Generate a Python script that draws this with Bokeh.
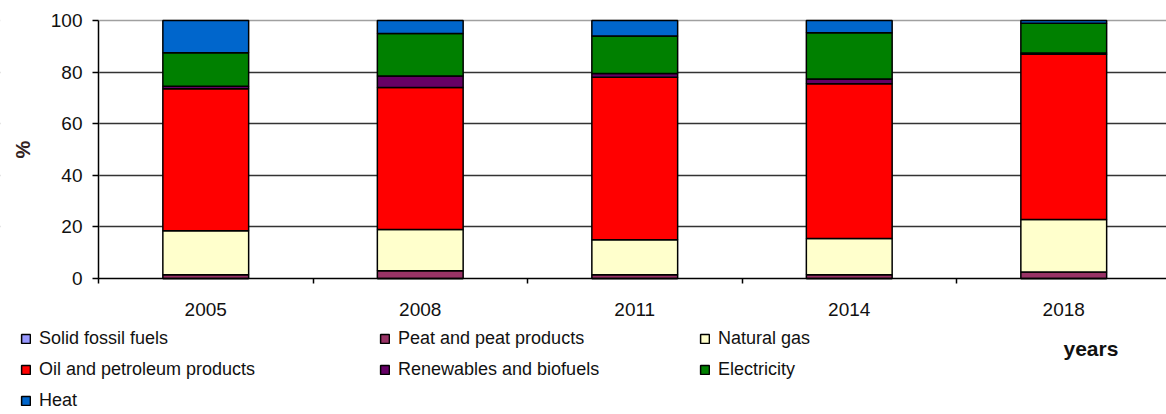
import math
from bokeh.plotting import figure
from bokeh.models import (ColumnDataSource, FixedTicker, Legend, LegendItem,
                          Label, Span, Range1d, BoxAnnotation)
from bokeh.embed import file_html
from bokeh.resources import INLINE

# ---- data (percent shares of final energy consumption) ----
years = ["2005", "2008", "2011", "2014", "2018"]
solid_fossil_fuels = [0.0, 0.0, 0.0, 0.0, 0.0]
peat_products = [1.5, 3.0, 1.5, 1.5, 2.5]
natural_gas = [17.0, 16.0, 13.5, 14.0, 20.4]
oil_petroleum = [55.0, 55.0, 63.0, 60.0, 64.0]
renewables_biofuels = [1.0, 4.5, 1.5, 1.8, 0.5]
electricity = [13.0, 16.5, 14.5, 18.0, 11.5]
heat = [12.5, 5.0, 6.0, 4.7, 1.1]
y_ticks = [0, 20, 40, 60, 80, 100]

series_labels = ["Solid fossil fuels", "Peat and peat products", "Natural gas",
                 "Oil and petroleum products", "Renewables and biofuels",
                 "Electricity", "Heat"]
series_keys = ["solid", "peat", "gas", "oil", "renew", "elec", "heat"]
series_colors = ["#9999FF", "#993366", "#FFFFCC", "#FF0000", "#660066",
                 "#008000", "#0066CC"]

x_pos = [i + 0.5 for i in range(len(years))]
source = ColumnDataSource(dict(
    x=x_pos, solid=solid_fossil_fuels, peat=peat_products, gas=natural_gas,
    oil=oil_petroleum, renew=renewables_biofuels, elec=electricity, heat=heat))

FONT = "Liberation Sans"
TXT = "#111111"

# ---- layout geometry (pixels) ----
W, H = 1166, 414
AXIS_X_PX = 98          # y axis position from left
PX_PER_CAT = 214.5
ZERO_Y_PX = 278         # y=0 line from top
PX_PER_PCT = 2.58

x0 = -AXIS_X_PX / PX_PER_CAT
y0 = -(H - ZERO_Y_PX) / PX_PER_PCT
p = figure(width=W, height=H, output_backend="svg", toolbar_location=None,
           x_range=Range1d(x0, x0 + W / PX_PER_CAT),
           y_range=Range1d(y0, y0 + H / PX_PER_PCT),
           min_border_left=0, min_border_right=0, min_border_top=0,
           min_border_bottom=0)
p.outline_line_color = None

# grid (underlay) + top line, masked left of the y axis
p.xgrid.grid_line_color = None
p.ygrid.ticker = FixedTicker(ticks=y_ticks[1:-1])
p.ygrid.grid_line_color = "#333333"
p.ygrid.grid_line_width = 1.5
p.add_layout(Span(location=y_ticks[-1], dimension="width",
                  line_color="#a0a0a0", line_width=1.5, level="underlay"))
p.add_layout(BoxAnnotation(left=x0 - 1, right=0, fill_color="white",
                           fill_alpha=1.0, line_color="white", line_width=3,
                           level="underlay"))

renderers = p.vbar_stack(series_keys, x="x", width=0.4, source=source,
                         fill_color=series_colors, line_color="black",
                         line_width=1.5)

# x axis at y = 0
xa = p.xaxis[0]
xa.fixed_location = 0
xa.bounds = (0, len(years))
xa.ticker = FixedTicker(ticks=x_pos, minor_ticks=list(range(len(years) + 1)))
xa.major_label_overrides = {x: y for x, y in zip(x_pos, years)}
xa.major_tick_out = 0
xa.major_tick_in = 0
xa.minor_tick_out = 5
xa.minor_tick_in = 0
xa.minor_tick_line_color = "black"
xa.minor_tick_line_width = 1.5
xa.axis_line_color = "black"
xa.axis_line_width = 1.5
xa.major_label_standoff = 19
xa.major_label_text_font = FONT
xa.major_label_text_font_size = "19px"
xa.major_label_text_color = TXT

# y axis at x = 0
ya = p.yaxis[0]
ya.fixed_location = 0
ya.bounds = (y_ticks[0], y_ticks[-1])
ya.ticker = FixedTicker(ticks=y_ticks)
ya.major_tick_out = 6
ya.major_tick_in = 0
ya.minor_tick_line_color = None
ya.major_tick_line_color = "black"
ya.major_tick_line_width = 1.5
ya.axis_line_color = "black"
ya.axis_line_width = 1.5
ya.major_label_standoff = 10
ya.major_label_text_font = FONT
ya.major_label_text_font_size = "19px"
ya.major_label_text_color = TXT

p.add_layout(Label(x=22, y=H - 149, x_units="screen", y_units="screen",
                   text="%", angle=math.pi / 2, text_font=FONT,
                   text_font_size="20px", text_font_style="bold",
                   text_align="center", text_baseline="middle",
                   text_color="#332222"))

# legend: three columns, row-major order as in the original
rmap = dict(zip(series_labels, renderers))
columns_spec = [
    (["Solid fossil fuels", "Oil and petroleum products", "Heat"], (20, 3)),
    (["Peat and peat products", "Renewables and biofuels"], (379, 34)),
    (["Natural gas", "Electricity"], (699, 34)),
]
for labels, loc in columns_spec:
    lg = Legend(items=[LegendItem(label=l, renderers=[rmap[l]]) for l in labels],
                location=loc, orientation="vertical")
    lg.label_text_font = FONT
    lg.label_text_font_size = "18px"
    lg.label_text_color = TXT
    lg.glyph_width = 11
    lg.glyph_height = 11
    lg.label_standoff = 8
    lg.label_height = 21
    lg.spacing = 10
    lg.padding = 0
    lg.margin = 0
    lg.border_line_color = None
    lg.background_fill_alpha = 0
    p.add_layout(lg, "center")

p.add_layout(Label(x=1063, y=66, x_units="screen", y_units="screen",
                   text="years", text_font=FONT, text_font_size="21px",
                   text_font_style="bold", text_baseline="alphabetic",
                   text_color=TXT))

open("out.html", "w").write(file_html(p, INLINE))
